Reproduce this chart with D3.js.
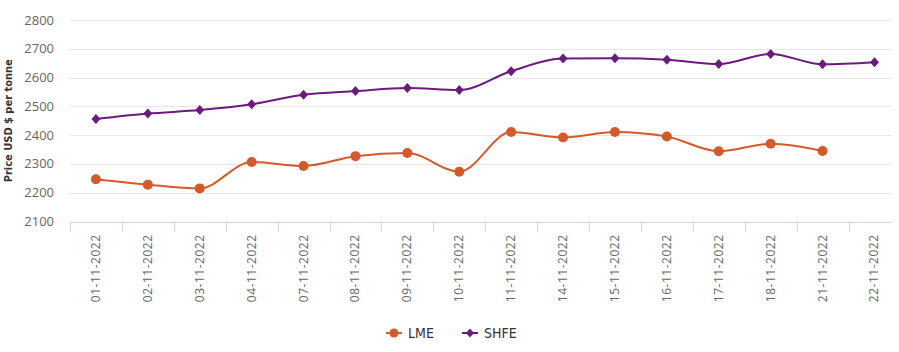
<!DOCTYPE html>
<html lang="en">
<head>
    <meta charset="UTF-8">
    <title>LME vs SHFE</title>
    <script src="https://d3js.org/d3.v7.min.js"></script>
    <style>
        body { margin: 0; padding: 0; background: #fff; }
        svg { display: block; }
        .ytick text { font-family: "Open Sans", sans-serif; font-size: 13px; fill: #666; }
        .xtick text { font-family: "Open Sans", sans-serif; font-size: 12px; fill: #666; letter-spacing: 0.5px; }
        .ytitle { font-family: "Liberation Sans Narrow", "DejaVu Sans Condensed", sans-serif; font-size: 11px; font-weight: bold; fill: #333; }
        .legend text { font-family: "Liberation Sans Narrow", "DejaVu Sans Condensed", sans-serif; font-size: 14px; fill: #333; }
    </style>
</head>
<body>
    <svg id="chart" width="899" height="352"></svg>
    <script>
        const dates = ["01-11-2022", "02-11-2022", "03-11-2022", "04-11-2022", "07-11-2022", "08-11-2022",
            "09-11-2022", "10-11-2022", "11-11-2022", "14-11-2022", "15-11-2022", "16-11-2022",
            "17-11-2022", "18-11-2022", "21-11-2022", "22-11-2022"];
        const lme = [2247, 2228, 2215, 2307, 2293, 2327, 2338, 2273, 2411, 2392, 2411, 2395, 2344, 2370, 2345, null];
        const shfe = [2456, 2475, 2487, 2507, 2540, 2553, 2564, 2557, 2622, 2666, 2667, 2662, 2647, 2682, 2646, 2653];
        const yTicks = [2100, 2200, 2300, 2400, 2500, 2600, 2700, 2800];

        const svg = d3.select("#chart");
        const plotLeft = 70, plotRight = 891, plotTop = 20, plotBottom = 221.5;

        const x = d3.scaleBand().domain(dates).range([plotLeft, plotLeft + 51.9 * dates.length]);
        const y = d3.scaleLinear().domain([2100, 2800]).range([plotBottom, plotTop]);

        // gridlines + y labels
        const yg = svg.append("g").attr("class", "ytick");
        yTicks.forEach(t => {
            yg.append("line")
                .attr("x1", plotLeft).attr("x2", plotRight)
                .attr("y1", Math.round(y(t)) + 0.5).attr("y2", Math.round(y(t)) + 0.5)
                .attr("stroke", t === 2100 ? "#ccd6eb" : "#e6e6e6").attr("stroke-width", 1);
            yg.append("text")
                .attr("x", 54).attr("y", y(t) + 4.5)
                .attr("text-anchor", "end")
                .text(t);
        });

        svg.append("text")
            .attr("class", "ytitle")
            .attr("transform", `translate(12,${(plotTop + plotBottom) / 2}) rotate(-90)`)
            .attr("text-anchor", "middle")
            .text("Price USD $ per tonne");

        // x ticks and labels
        const xg = svg.append("g").attr("class", "xtick");
        dates.forEach(d => {
            const tx = Math.round(x(d)) + 0.5;
            xg.append("line")
                .attr("x1", tx).attr("x2", tx)
                .attr("y1", plotBottom).attr("y2", plotBottom + 10)
                .attr("stroke", "#ccd6eb");
            xg.append("text")
                .attr("transform", `translate(${x(d) + x.bandwidth() / 2 + 4},${plotBottom + 13}) rotate(-90)`)
                .attr("text-anchor", "end")
                .text(d);
        });

        const cx = d => x(d) + x.bandwidth() / 2;

        const line = d3.line()
            .defined(d => d[1] != null)
            .x(d => cx(d[0]))
            .y(d => y(d[1]))
            .curve(d3.curveMonotoneX);

        const series = [
            { name: "LME", values: lme, color: "#d35a2b", shape: "circle" },
            { name: "SHFE", values: shfe, color: "#6b1a7e", shape: "diamond" }
        ];

        series.forEach(s => {
            const pts = dates.map((d, i) => [d, s.values[i]]);
            svg.append("path")
                .datum(pts)
                .attr("fill", "none")
                .attr("stroke", s.color)
                .attr("stroke-width", 2)
                .attr("d", line);
            const valid = pts.filter(p => p[1] != null);
            if (s.shape === "circle") {
                svg.selectAll(null).data(valid).enter().append("circle")
                    .attr("cx", p => cx(p[0])).attr("cy", p => y(p[1]))
                    .attr("r", 5).attr("fill", s.color);
            } else {
                svg.selectAll(null).data(valid).enter().append("path")
                    .attr("transform", p => `translate(${cx(p[0])},${y(p[1])})`)
                    .attr("d", "M0,-5L4.5,0L0,5L-4.5,0Z")
                    .attr("fill", s.color);
            }
        });

        // legend
        const legend = svg.append("g").attr("class", "legend");
        const lItems = [{ s: series[0], x: 386 }, { s: series[1], x: 462 }];
        lItems.forEach(it => {
            const g = legend.append("g").attr("transform", `translate(${it.x},333)`);
            g.append("line").attr("x1", 0).attr("x2", 16).attr("y1", 0).attr("y2", 0)
                .attr("stroke", it.s.color).attr("stroke-width", 2);
            if (it.s.shape === "circle") {
                g.append("circle").attr("cx", 8).attr("cy", 0).attr("r", 4.5).attr("fill", it.s.color);
            } else {
                g.append("path").attr("transform", "translate(8,0)").attr("d", "M0,-4.5L4,0L0,4.5L-4,0Z").attr("fill", it.s.color);
            }
            g.append("text").attr("x", 22).attr("y", 5).text(it.s.name);
        });
    </script>
</body>
</html>
